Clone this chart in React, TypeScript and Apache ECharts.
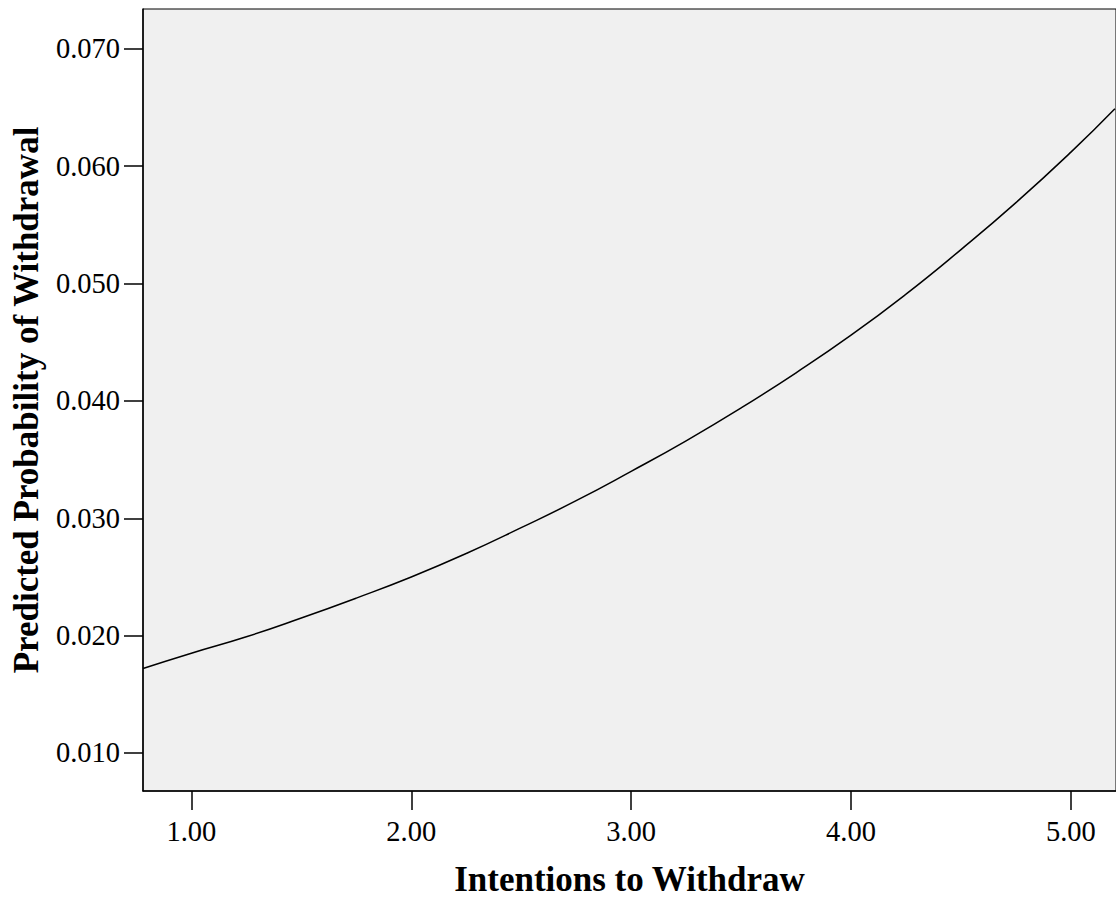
import React, { useEffect, useRef } from "react";
import * as echarts from "echarts";

const xValues = [0.78, 1.0, 1.25, 1.5, 1.75, 2.0, 2.25, 2.5, 2.75, 3.0, 3.25, 3.5, 3.75, 4.0, 4.25, 4.5, 4.75, 5.0, 5.2];
const probValues = [0.0172, 0.0185, 0.0199, 0.0215, 0.0232, 0.0250, 0.0270, 0.0292, 0.0315, 0.0340, 0.0366, 0.0394, 0.0424, 0.0456, 0.0491, 0.0529, 0.0569, 0.0612, 0.0649];
const xTicks = [1, 2, 3, 4, 5];
const yTicks = [0.01, 0.02, 0.03, 0.04, 0.05, 0.06, 0.07];

const FONT = "Liberation Serif";

export default function App() {
  const ref = useRef<HTMLDivElement>(null);
  useEffect(() => {
    if (!ref.current) return;
    const chart = echarts.init(ref.current, null, { renderer: "svg" });
    chart.setOption({
      animation: false,
      backgroundColor: "#ffffff",
      grid: {
        left: 143,
        top: 9,
        width: 973,
        height: 782,
        containLabel: false,
        outerBoundsMode: "none",
        show: true,
        backgroundColor: "#f0f0f0",
        borderColor: "#000000",
        borderWidth: 1,
      },
      xAxis: {
        type: "value",
        min: 0.78,
        max: 5.205,
        name: "Intentions to Withdraw",
        nameLocation: "middle",
        nameGap: 71,
        nameTextStyle: { fontFamily: FONT, fontWeight: "bold", fontSize: 35, color: "#000" },
        axisLine: { show: true, onZero: false, lineStyle: { color: "#000", width: 1.5 } },
        axisTick: { show: true, length: 19, customValues: xTicks, lineStyle: { color: "#000", width: 1.5 } },
        axisLabel: {
          customValues: xTicks,
          margin: 26,
          fontFamily: FONT,
          fontSize: 28.5,
          color: "#000",
          formatter: (v: number) => v.toFixed(2),
        },
        splitLine: { show: false },
      },
      yAxis: {
        type: "value",
        min: 0.00676,
        max: 0.0734,
        name: "Predicted Probability of Withdrawal",
        nameLocation: "middle",
        nameGap: 99,
        nameTextStyle: { fontFamily: FONT, fontWeight: "bold", fontSize: 35, color: "#000" },
        axisLine: { show: true, onZero: false, lineStyle: { color: "#000", width: 1.5 } },
        axisTick: { show: true, length: 19, customValues: yTicks, lineStyle: { color: "#000", width: 1.5 } },
        axisLabel: {
          customValues: yTicks,
          margin: 23,
          fontFamily: FONT,
          fontSize: 28.5,
          color: "#000",
          formatter: (v: number) => v.toFixed(3),
        },
        splitLine: { show: false },
      },
      series: [
        {
          type: "line",
          data: xValues.map((x, i) => [x, probValues[i]]),
          smooth: true,
          showSymbol: false,
          clip: true,
          lineStyle: { color: "#000", width: 1.5 },
        },
      ],
    });
    return () => chart.dispose();
  }, []);
  return <div ref={ref} style={{ position: "fixed", left: 0, top: 0, width: 1116, height: 898 }} />;
}
